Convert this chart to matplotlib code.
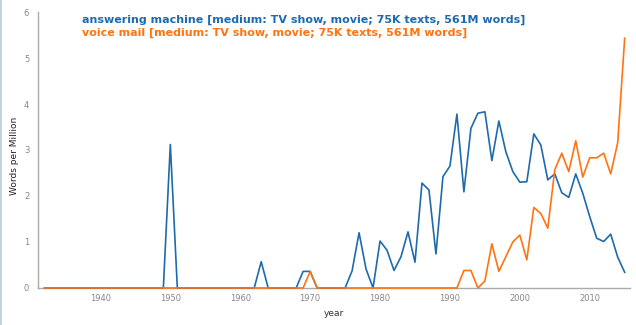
import matplotlib
matplotlib.use("Agg")
import matplotlib.pyplot as plt
from matplotlib.lines import Line2D

# data (words per million), one value per year 1932..2015
years = list(range(1932, 2016))

answering_machine = [
    0, 0, 0, 0, 0, 0, 0, 0,                                      # 1932-1939
    0, 0, 0, 0, 0, 0, 0, 0, 0, 0,                                # 1940s
    3.12, 0, 0, 0, 0, 0, 0, 0, 0, 0,                             # 1950s
    0, 0, 0, 0.57, 0, 0, 0, 0, 0, 0.36,                          # 1960s
    0.36, 0, 0, 0, 0, 0, 0.37, 1.20, 0.41, 0,                    # 1970s
    1.02, 0.82, 0.38, 0.68, 1.22, 0.56, 2.28, 2.13, 0.74, 2.42,  # 1980s
    2.65, 3.78, 2.09, 3.47, 3.80, 3.83, 2.77, 3.63, 2.96, 2.53,  # 1990s
    2.30, 2.31, 3.35, 3.11, 2.35, 2.48, 2.07, 1.97, 2.48, 2.06,  # 2000s
    1.55, 1.08, 1.01, 1.17, 0.67, 0.34,                          # 2010-2015
]

voice_mail = [
    0, 0, 0, 0, 0, 0, 0, 0,
    0, 0, 0, 0, 0, 0, 0, 0, 0, 0,
    0, 0, 0, 0, 0, 0, 0, 0, 0, 0,
    0, 0, 0, 0, 0, 0, 0, 0, 0, 0,
    0.36, 0, 0, 0, 0, 0, 0, 0, 0, 0,
    0, 0, 0, 0, 0, 0, 0, 0, 0, 0,
    0, 0, 0.38, 0.38, 0, 0.15, 0.96, 0.36, 0.68, 1.00,
    1.15, 0.61, 1.75, 1.62, 1.30, 2.57, 2.93, 2.53, 3.20, 2.41,
    2.83, 2.83, 2.93, 2.48, 3.16, 5.43,
]

labels = [
    "answering machine [medium: TV show, movie; 75K texts, 561M words]",
    "voice mail [medium: TV show, movie; 75K texts, 561M words]",
]
colors = ["#1f6aad", "#ff7410"]
x_ticks = [1940, 1950, 1960, 1970, 1980, 1990, 2000, 2010]
y_ticks = [0, 1, 2, 3, 4, 5, 6]

fig = plt.figure(figsize=(6.36, 3.25), dpi=100)
ax = fig.add_axes([0.059, 0.114, 0.932, 0.849])

ax.plot(years, answering_machine, color=colors[0], lw=1.2, clip_on=False, zorder=3)
ax.plot(years, voice_mail, color=colors[1], lw=1.2, clip_on=False, zorder=4)

ax.set_xlim(1931, 2015.8)
ax.set_ylim(0, 6)
ax.set_xticks(x_ticks)
ax.set_yticks(y_ticks)
ax.tick_params(length=0, labelsize=6, labelcolor="#888888")
ax.tick_params(axis="y", pad=6)
ax.tick_params(axis="x", pad=4)

for s in ["top", "right"]:
    ax.spines[s].set_visible(False)
for s in ["left", "bottom"]:
    ax.spines[s].set_color("#aaaaaa")
    ax.spines[s].set_linewidth(1.0)

ax.set_ylabel("Words per Million", fontsize=6.5, color="#222222")
ax.yaxis.set_label_coords(-0.032, 0.48)
ax.set_xlabel("year", fontsize=6.5, color="#333333", labelpad=5)

# legend-like titles
fig.text(0.129, 0.94, labels[0], color=colors[0], fontsize=8.0,
         fontweight="bold", va="center")
fig.text(0.129, 0.898, labels[1], color=colors[1], fontsize=8.0,
         fontweight="bold", va="center")

# faint frame line on the left
fig.add_artist(Line2D([0.0015, 0.0015], [0, 1], transform=fig.transFigure,
                      color="#b8c8e0", lw=1.2))

fig.savefig("out.png", dpi=100)
